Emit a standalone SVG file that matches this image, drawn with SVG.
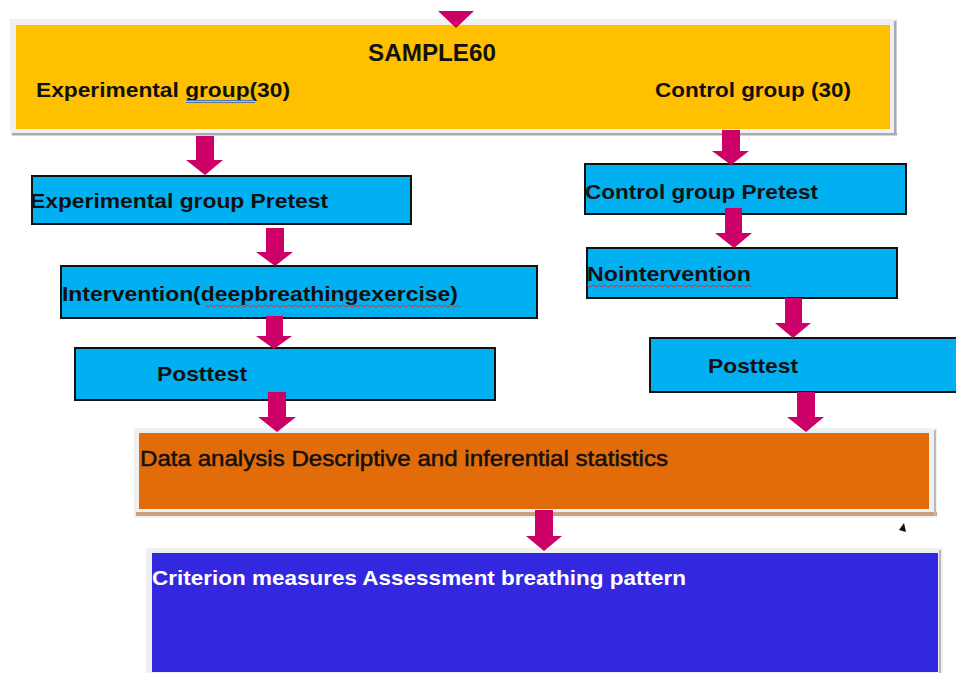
<svg xmlns="http://www.w3.org/2000/svg" width="956" height="673" viewBox="0 0 956 673">
<defs>
<style>
.t{font-family:"Liberation Sans",Arial,sans-serif;font-weight:bold;font-size:21px;fill:#111}
.big{font-size:24px}
.n{font-family:"Liberation Sans",Arial,sans-serif;font-size:22px;fill:#111;stroke:#111;stroke-width:0.5}
.w{font-family:"Liberation Sans",Arial,sans-serif;font-weight:bold;font-size:21px;fill:#fff}
.box{fill:#00B0F0;stroke:#111;stroke-width:2}
.arr{fill:#CC0066}
.frame{fill:#F0F0F0}
.wavy{fill:none;stroke:#E03030;stroke-width:1}
</style>
</defs>
<rect width="956" height="673" fill="#fff"/>

<g id="sample">
<rect class="frame" x="10" y="19" width="887" height="116"/>
<rect x="12" y="133" width="885" height="2.5" fill="#A8A8B8"/>
<rect x="894" y="21" width="2.5" height="114" fill="#A8A8B8"/>
<rect x="16" y="25" width="874" height="104" fill="#FFC000"/>
<text class="t big" x="368" y="61" textLength="128" lengthAdjust="spacingAndGlyphs">SAMPLE60</text>
<text class="t" x="36" y="97" textLength="254" lengthAdjust="spacingAndGlyphs">Experimental group(30)</text>
<line x1="186" y1="100.5" x2="255" y2="100.5" stroke="#5577AA" stroke-width="1"/>
<line x1="186" y1="102.5" x2="255" y2="102.5" stroke="#5577AA" stroke-width="1"/>
<text class="t" x="655" y="97" textLength="196" lengthAdjust="spacingAndGlyphs">Control group (30)</text>
</g>

<g id="exp-pretest">
<rect class="box" x="32" y="176" width="379" height="48"/>
<text class="t" x="30" y="208" textLength="298" lengthAdjust="spacingAndGlyphs">Experimental group Pretest</text>
</g>

<g id="intervention">
<rect class="box" x="61" y="266" width="476" height="52"/>
<text class="t" x="62" y="301" textLength="396" lengthAdjust="spacingAndGlyphs">Intervention(deepbreathingexercise)</text>
<path class="wavy" d="M205 305 l3 2 l3 -2 l3 2 l3 -2 l3 2 l3 -2 l3 2 l3 -2 l3 2 l3 -2 l3 2 l3 -2 l3 2 l3 -2 l3 2 l3 -2 l3 2 l3 -2 l3 2 l3 -2 l3 2 l3 -2 l3 2 l3 -2 l3 2 l3 -2 l3 2 l3 -2 l3 2 l3 -2 l3 2 l3 -2 l3 2 l3 -2 l3 2 l3 -2 l3 2 l3 -2 l3 2 l3 -2 l3 2 l3 -2 l3 2 l3 -2 l3 2 l3 -2 l3 2 l3 -2 l3 2 l3 -2 l3 2 l3 -2 l3 2 l3 -2 l3 2 l3 -2 l3 2 l3 -2 l3 2 l3 -2 l3 2 l3 -2 l3 2 l3 -2 l3 2 l3 -2 l3 2 l3 -2 l3 2 l3 -2 l3 2 l3 -2 l3 2 l3 -2 l3 2 l3 -2 l3 2 l3 -2 l3 2 l3 -2 l3 2 l3 -2 l3 2 l3 -2 l3 2"/>
</g>

<g id="exp-posttest">
<rect class="box" x="75" y="348" width="420" height="52"/>
<text class="t" x="157" y="381" textLength="90" lengthAdjust="spacingAndGlyphs">Posttest</text>
</g>

<g id="ctl-pretest">
<rect class="box" x="585" y="164" width="321" height="50"/>
<text class="t" x="585" y="199" textLength="233" lengthAdjust="spacingAndGlyphs">Control group Pretest</text>
</g>

<g id="nointervention">
<rect class="box" x="587" y="248" width="310" height="50"/>
<text class="t" x="587" y="281" textLength="164" lengthAdjust="spacingAndGlyphs">Nointervention</text>
<path class="wavy" d="M587 285 l3 2 l3 -2 l3 2 l3 -2 l3 2 l3 -2 l3 2 l3 -2 l3 2 l3 -2 l3 2 l3 -2 l3 2 l3 -2 l3 2 l3 -2 l3 2 l3 -2 l3 2 l3 -2 l3 2 l3 -2 l3 2 l3 -2 l3 2 l3 -2 l3 2 l3 -2 l3 2 l3 -2 l3 2 l3 -2 l3 2 l3 -2 l3 2 l3 -2 l3 2 l3 -2 l3 2 l3 -2 l3 2 l3 -2 l3 2 l3 -2 l3 2 l3 -2 l3 2 l3 -2 l3 2 l3 -2 l3 2 l3 -2 l3 2 l3 -2 l3 2"/>
</g>

<g id="ctl-posttest">
<rect class="box" x="650" y="338" width="310" height="54"/>
<text class="t" x="708" y="373" textLength="90" lengthAdjust="spacingAndGlyphs">Posttest</text>
</g>

<g id="analysis">
<rect class="frame" x="134" y="428" width="803" height="90"/>
<rect x="136" y="512" width="801" height="4" fill="#C9A07E"/>
<rect x="934" y="430" width="2" height="86" fill="#B8B8C0"/>
<rect x="139" y="433" width="790" height="76" fill="#E26B0A"/>
<text class="n" x="140" y="466" textLength="528" lengthAdjust="spacingAndGlyphs">Data analysis  Descriptive and inferential statistics</text>
</g>

<g id="criterion">
<rect class="frame" x="146" y="548" width="797" height="125"/>
<rect x="939" y="550" width="2" height="123" fill="#B8B8C0"/>
<rect x="152" y="553" width="786" height="119" fill="#3328E0"/>
<text class="w" x="152" y="585" textLength="534" lengthAdjust="spacingAndGlyphs">Criterion measures Assessment breathing pattern</text>
</g>

<g id="connectors">
<polygon class="arr" points="438,11 474,11 456,28"/>
<polygon class="arr" points="196,136 214,136 214,160 223,160 205,175 186,160 196,160"/>
<polygon class="arr" points="722,130 740,130 740,151 749,151 731,165 712,151 722,151"/>
<polygon class="arr" points="266,228 284,228 284,252 293,252 275,266 256,252 266,252"/>
<polygon class="arr" points="725,208 742,208 742,233 752,233 734,248 715,233 725,233"/>
<polygon class="arr" points="266,316 283,316 283,336 292,336 274,349 256,336 266,336"/>
<polygon class="arr" points="785,298 802,298 802,323 811,323 793,338 775,323 785,323"/>
<polygon class="arr" points="268,392 286,392 286,417 296,417 277,432 258,417 268,417"/>
<polygon class="arr" points="797,392 815,392 815,417 824,417 806,432 787,417 797,417"/>
<polygon class="arr" points="535,510 553,510 553,536 562,536 544,551 526,536 535,536"/>
<polygon points="899,530 906,532 904,523" fill="#111"/>
</g>
</svg>
